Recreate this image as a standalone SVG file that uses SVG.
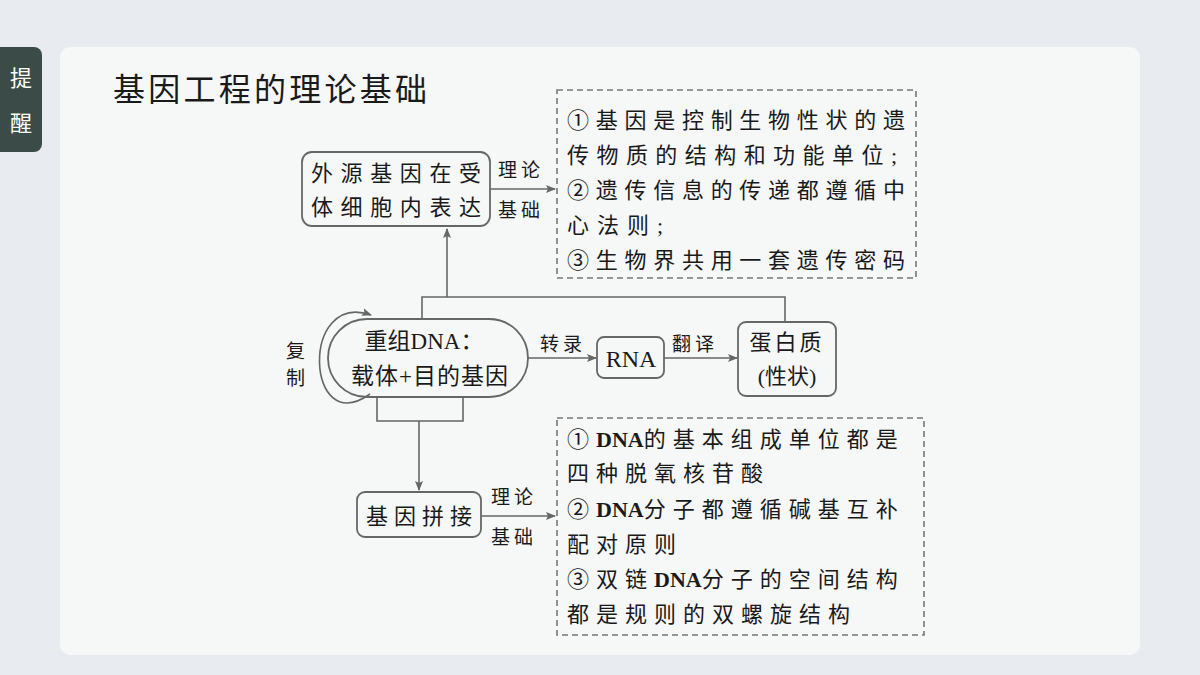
<svg xmlns="http://www.w3.org/2000/svg" width="1200" height="675" viewBox="0 0 1200 675">
<defs>
<style>
text{font-family:"Liberation Serif","Noto Sans CJK SC",serif;fill:#1a1a1a}
.t{font-size:22px}
.d{font-size:22px;letter-spacing:7px}
.dna{letter-spacing:0;font-weight:bold}
.l{font-size:19px;letter-spacing:4px}
.box{fill:none;stroke:#666;stroke-width:1.8}
.dash{fill:none;stroke:#777;stroke-width:1.6;stroke-dasharray:6 4}
.c{fill:none;stroke:#666;stroke-width:1.6}
</style>
<marker id="a" markerWidth="10" markerHeight="8" refX="9" refY="4" orient="auto" markerUnits="userSpaceOnUse"><path d="M0,0 L10,4 L0,8 L2,4 Z" fill="#666"/></marker>
</defs>
<rect width="1200" height="675" fill="#e8ebef"/>
<rect x="60" y="47" width="1080" height="608" rx="10" fill="#f6f7f7"/>
<path d="M0,47 H34 a8,8 0 0 1 8,8 V144 a8,8 0 0 1 -8,8 H0 Z" fill="#3b4c48"/>
<text x="21" y="86" font-size="22" text-anchor="middle" style="fill:#fff">提</text>
<text x="21" y="131" font-size="22" text-anchor="middle" style="fill:#fff">醒</text>
<text x="113" y="101" font-size="32" textLength="314" lengthAdjust="spacing">基因工程的理论基础</text>

<g id="connectors">
<line class="c" x1="490" y1="189" x2="555" y2="189" marker-end="url(#a)"/>
<polyline class="c" points="422,318 422,297 785,297 785,322"/>
<line class="c" x1="447" y1="297" x2="447" y2="229" marker-end="url(#a)"/>
<line class="c" x1="528" y1="358" x2="596" y2="358" marker-end="url(#a)"/>
<line class="c" x1="664" y1="358" x2="737" y2="358" marker-end="url(#a)"/>
<path class="c" d="M370,394 C305,440 300,290 371,315" marker-end="url(#a)"/>
<polyline class="c" points="377,396 377,421 463,421 463,396"/>
<line class="c" x1="419" y1="421" x2="419" y2="490" marker-end="url(#a)"/>
<line class="c" x1="481" y1="516" x2="555" y2="516" marker-end="url(#a)"/>
<text class="l" x="498" y="177">理论</text>
<text class="l" x="498" y="217">基础</text>
<text class="l" x="540" y="351">转录</text>
<text class="l" x="672" y="351">翻译</text>
<text class="l" x="286" y="358">复</text>
<text class="l" x="286" y="385">制</text>
<text class="l" x="491" y="504">理论</text>
<text class="l" x="491" y="544">基础</text>
</g>

<g id="n1"><rect class="box" x="302" y="152" width="188" height="74" rx="10"/>
<text class="t" x="311" y="181" textLength="170" lengthAdjust="spacing">外源基因在受</text><text class="t" x="311" y="215" textLength="170" lengthAdjust="spacing">体细胞内表达</text></g>

<g id="n2"><rect class="dash" x="557" y="90" width="359" height="188"/>
<text class="t" x="567" y="128" textLength="338" lengthAdjust="spacing">①基因是控制生物性状的遗</text>
<text class="t" x="567" y="163" textLength="330" lengthAdjust="spacing">传物质的结构和功能单位;</text>
<text class="t" x="567" y="198" textLength="338" lengthAdjust="spacing">②遗传信息的传递都遵循中</text>
<text class="t" x="567" y="233" textLength="96" lengthAdjust="spacing">心法则;</text>
<text class="t" x="567" y="268" textLength="338" lengthAdjust="spacing">③生物界共用一套遗传密码</text></g>

<g id="n3"><rect class="box" x="328" y="319" width="200" height="78" rx="39"/>
<text x="424" y="349" font-size="23" text-anchor="middle">重组DNA：</text>
<text x="430" y="384" font-size="23" text-anchor="middle" letter-spacing="1">载体+目的基因</text></g>

<g id="n4"><rect class="box" x="597" y="337" width="67" height="41" rx="7"/>
<text x="631" y="367" font-size="24" text-anchor="middle">RNA</text></g>

<g id="n5"><rect class="box" x="738" y="322" width="98" height="74" rx="8"/>
<text x="787" y="350" font-size="22" text-anchor="middle" letter-spacing="3">蛋白质</text>
<text x="787" y="384" font-size="22" text-anchor="middle">(性状)</text></g>

<g id="n6"><rect class="box" x="357" y="492" width="124" height="45" rx="8"/>
<text class="t" x="366" y="524" textLength="106" lengthAdjust="spacing">基因拼接</text></g>

<g id="n7"><rect class="dash" x="557" y="418" width="367" height="217"/>
<text class="d" x="567" y="447">①<tspan class="dna">DNA</tspan>的基本组成单位都是</text>
<text class="d" x="567" y="481">四种脱氧核苷酸</text>
<text class="d" x="567" y="517">②<tspan class="dna">DNA</tspan>分子都遵循碱基互补</text>
<text class="d" x="567" y="552">配对原则</text>
<text class="d" x="567" y="587">③双链<tspan class="dna">DNA</tspan>分子的空间结构</text>
<text class="d" x="567" y="622">都是规则的双螺旋结构</text></g>
</svg>
